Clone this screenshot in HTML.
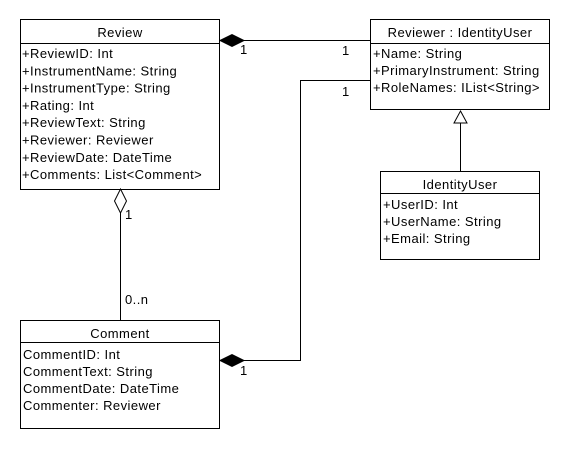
<!DOCTYPE html>
<html><head><style>
body{margin:0;background:#fff;}
svg text{font-family:"Liberation Sans",Arial,sans-serif;font-size:13px;letter-spacing:0.45px;fill:#000;}
</style></head><body>
<svg width="570" height="450" xmlns="http://www.w3.org/2000/svg" shape-rendering="crispEdges">
<g fill="#fff" stroke="#000" stroke-width="1">
<rect x="20.5" y="19.5" width="199" height="170"/>
<line x1="20" y1="43.5" x2="220" y2="43.5"/>
<rect x="370.5" y="19.5" width="179" height="90"/>
<line x1="370" y1="43.5" x2="550" y2="43.5"/>
<rect x="380.5" y="171.5" width="159" height="88"/>
<line x1="380" y1="193.5" x2="540" y2="193.5"/>
<rect x="20.5" y="320.5" width="199" height="108"/>
<line x1="20" y1="342.5" x2="220" y2="342.5"/>
<line x1="244" y1="40.5" x2="370" y2="40.5"/>
<polyline points="370,80.5 300.5,80.5 300.5,360.5 244,360.5" fill="none"/>
<line x1="120.5" y1="213" x2="120.5" y2="320"/>
<line x1="460.5" y1="123" x2="460.5" y2="171"/>
</g>
<g shape-rendering="auto" stroke="#000" stroke-width="1">
<polygon points="220,40.5 232,34.5 244,40.5 232,46.5" fill="#000"/>
<polygon points="220,360.5 232,354.5 244,360.5 232,366.5" fill="#000"/>
<polygon points="120.5,189 126.5,201 120.5,213 114.5,201" fill="#fff"/>
<polygon points="460.5,111 467,123 454,123" fill="#fff"/>
</g>
<text x="120" y="37" text-anchor="middle">Review</text>
<text x="22" y="58">+ReviewID: Int</text>
<text x="22" y="75.3">+InstrumentName: String</text>
<text x="22" y="92.6">+InstrumentType: String</text>
<text x="22" y="109.9">+Rating: Int</text>
<text x="22" y="127.2">+ReviewText: String</text>
<text x="22" y="144.5">+Reviewer: Reviewer</text>
<text x="22" y="161.8">+ReviewDate: DateTime</text>
<text x="22" y="179.1">+Comments: List&lt;Comment&gt;</text>
<text x="460" y="37" text-anchor="middle">Reviewer : IdentityUser</text>
<text x="373" y="58">+Name: String</text>
<text x="373" y="75">+PrimaryInstrument: String</text>
<text x="373" y="92">+RoleNames: IList&lt;String&gt;</text>
<text x="460" y="189" text-anchor="middle">IdentityUser</text>
<text x="383" y="209">+UserID: Int</text>
<text x="383" y="226">+UserName: String</text>
<text x="383" y="243">+Email: String</text>
<text x="120" y="338" text-anchor="middle">Comment</text>
<text x="23" y="359">CommentID: Int</text>
<text x="23" y="376">CommentText: String</text>
<text x="23" y="393">CommentDate: DateTime</text>
<text x="23" y="410">Commenter: Reviewer</text>
<text x="240" y="54">1</text>
<text x="342" y="55">1</text>
<text x="342" y="96">1</text>
<text x="240" y="375">1</text>
<text x="125" y="219">1</text>
<text x="125" y="304">0..n</text>
</svg>
</body></html>
